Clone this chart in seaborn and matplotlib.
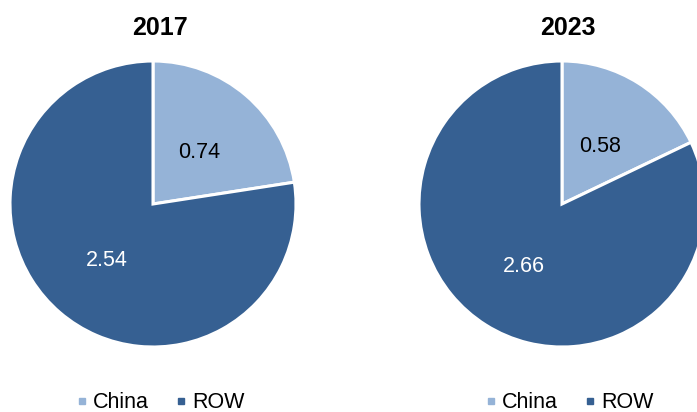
import matplotlib
matplotlib.use("Agg")
import matplotlib.pyplot as plt
from matplotlib.lines import Line2D
import seaborn as sns

sns.set_theme(style="white")
plt.rcParams['font.family'] = ['Liberation Sans', 'DejaVu Sans']
plt.rcParams['text.color'] = 'black'

years = ["2017", "2023"]
categories = ["China", "ROW"]
values_2017 = [0.74, 2.54]
values_2023 = [0.58, 2.66]
colors = ["#95B3D7", "#366092"]
label_colors = ["black", "white"]

W, H = 697, 412
fig = plt.figure(figsize=(W / 100, H / 100), dpi=100)

def px_axes(cx, cy, r):
    return fig.add_axes([(cx - r) / W, (H - cy - r) / H, 2 * r / W, 2 * r / H])

centers = [(153, 204), (562, 204)]
title_x = [160, 568]
legend_x = [161, 570]
for i, (year, vals) in enumerate(zip(years, [values_2017, values_2023])):
    cx, cy = centers[i]
    ax = px_axes(cx, cy, 143)
    wedges, texts = ax.pie(vals, colors=colors, startangle=90, counterclock=False,
                           labels=[f"{v:.2f}" for v in vals], labeldistance=0.5,
                           wedgeprops=dict(edgecolor="white", linewidth=2.2),
                           textprops=dict(fontsize=15.5))
    for t, c in zip(texts, label_colors):
        t.set_color(c)
        t.set_ha("center")
        t.set_va("center_baseline")
    ax.set_xlim(-1, 1)
    ax.set_ylim(-1, 1)
    ax.set_aspect("equal")
    ax.axis("off")
    fig.text(title_x[i] / W, (H - 28) / H, year, ha="center", va="center",
             fontsize=18, fontweight="bold", color="black")
    handles = [Line2D([0], [0], marker="s", linestyle="none", markersize=5,
                      markerfacecolor=c, markeredgecolor=c) for c in colors]
    leg = fig.legend(handles, categories, loc="center", ncol=2, frameon=False,
                     bbox_to_anchor=(legend_x[i] / W, 9 / H), fontsize=15.5,
                     handlelength=0.4, handletextpad=0.3, columnspacing=1.3,
                     borderpad=0.1)
    for t in leg.get_texts():
        t.set_color("black")

fig.savefig("out.png", dpi=100)
